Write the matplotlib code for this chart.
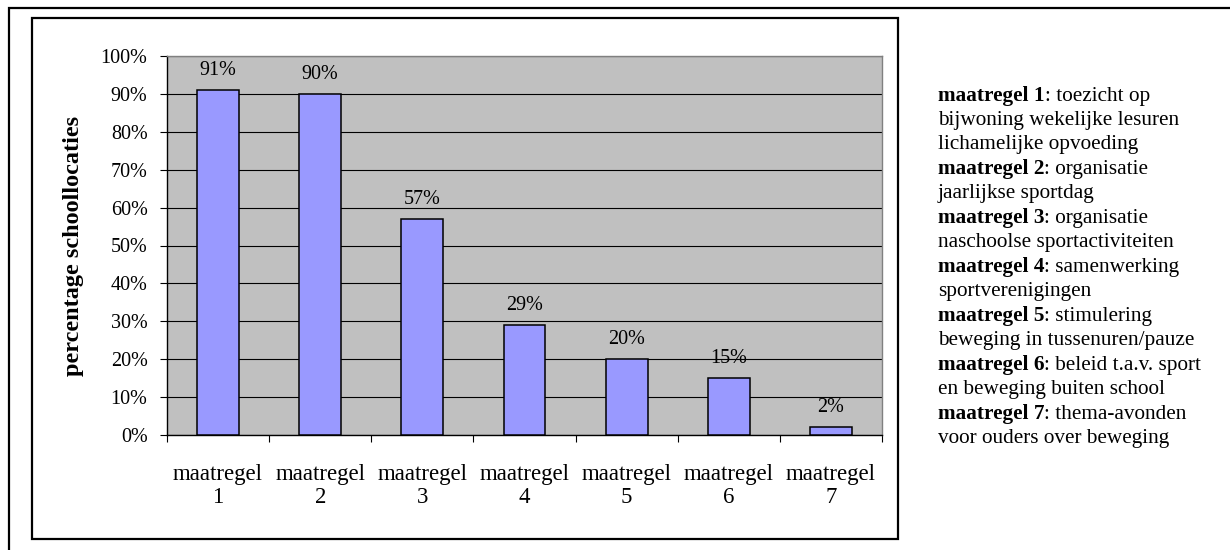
import numpy as np
import matplotlib
matplotlib.use("Agg")
import matplotlib.pyplot as plt
from matplotlib.patches import Rectangle
from matplotlib.ticker import FixedLocator, PercentFormatter

plt.rcParams['font.family'] = ['Liberation Serif', 'DejaVu Serif']

# data
categories = ["maatregel\n1", "maatregel\n2", "maatregel\n3", "maatregel\n4",
              "maatregel\n5", "maatregel\n6", "maatregel\n7"]
percentages = [91, 90, 57, 29, 20, 15, 2]
yticks = [0, 10, 20, 30, 40, 50, 60, 70, 80, 90, 100]
ylabel = "percentage schoollocaties"

# legend text on the right: (bold part, regular part) per line
legend_lines = [
    ("maatregel 1", ": toezicht op"),
    ("", "bijwoning wekelijke lesuren"),
    ("", "lichamelijke opvoeding"),
    ("maatregel 2", ": organisatie"),
    ("", "jaarlijkse sportdag"),
    ("maatregel 3", ": organisatie"),
    ("", "naschoolse sportactiviteiten"),
    ("maatregel 4", ": samenwerking"),
    ("", "sportverenigingen"),
    ("maatregel 5", ": stimulering"),
    ("", "beweging in tussenuren/pauze"),
    ("maatregel 6", ": beleid t.a.v. sport"),
    ("", "en beweging buiten school"),
    ("maatregel 7", ": thema-avonden"),
    ("", "voor ouders over beweging"),
]

W, H = 1230, 550
fig = plt.figure(figsize=(W / 100, H / 100), dpi=100)

def px(x0, y0, x1, y1):
    # pixel box (top-left origin) -> figure fraction [l, b, w, h]
    return [x0 / W, 1 - y1 / H, (x1 - x0) / W, (y1 - y0) / H]

# outer and inner frames
l, b, w, h = px(9, 8, 1270, 590)
fig.add_artist(Rectangle((l, b), w, h, transform=fig.transFigure,
                         fill=False, edgecolor='black', lw=1.6))
l, b, w, h = px(32, 18, 898, 539)
fig.add_artist(Rectangle((l, b), w, h, transform=fig.transFigure,
                         fill=False, edgecolor='black', lw=1.6))

ax = fig.add_axes(px(167, 56, 882, 435))
ax.set_facecolor('#C0C0C0')

x = np.arange(1, len(percentages) + 1)
bars = ax.bar(x, percentages, width=0.41, color='#9999FF',
              edgecolor='black', linewidth=1.1, zorder=3)

# value labels above the bars
for xi, v in zip(x, percentages):
    ax.annotate(f"{v}%", xy=(xi, v), xytext=(0, 11), textcoords='offset points',
                ha='center', va='baseline', fontsize=14.5, zorder=4)

ax.set_xlim(0.5, len(percentages) + 0.5)
ax.set_ylim(0, 100)
ax.set_yticks(yticks)
ax.yaxis.set_major_formatter(PercentFormatter(decimals=0))
ax.grid(axis='y', color='black', lw=0.8, zorder=1)
ax.set_axisbelow(True)

ax.set_xticks(x)
ax.set_xticklabels(categories, fontsize=16.5, linespacing=1.1)
ax.xaxis.set_minor_locator(FixedLocator(np.arange(0.5, len(percentages) + 1, 1)))
ax.tick_params(axis='x', which='major', length=0, pad=21)
ax.tick_params(axis='x', which='minor', length=5, width=0.8, direction='out')
ax.tick_params(axis='y', which='major', length=5, width=0.8, direction='out',
               labelsize=14.5, pad=9)

ax.set_ylabel(ylabel, fontsize=17.5, fontweight='bold', labelpad=12)

for side in ['top', 'right']:
    ax.spines[side].set_color('#808080')
    ax.spines[side].set_linewidth(1.0)
for side in ['left', 'bottom']:
    ax.spines[side].set_color('black')
    ax.spines[side].set_linewidth(1.0)

# side legend: bold name, then the regular text right after it
y0, dy = 96, 24.45
for i, (bold, rest) in enumerate(legend_lines):
    yf = 1 - (y0 + i * dy) / H
    if bold:
        t = fig.text(938 / W, yf, bold, fontsize=15.3, fontweight='bold',
                     ha='left', va='center')
        ax.annotate(rest, xy=(1, 0), xycoords=t, ha='left', va='bottom',
                    fontsize=15.3, annotation_clip=False)
    else:
        fig.text(938 / W, yf, rest, fontsize=15.3, ha='left', va='center')

fig.savefig("out.png", dpi=100)
